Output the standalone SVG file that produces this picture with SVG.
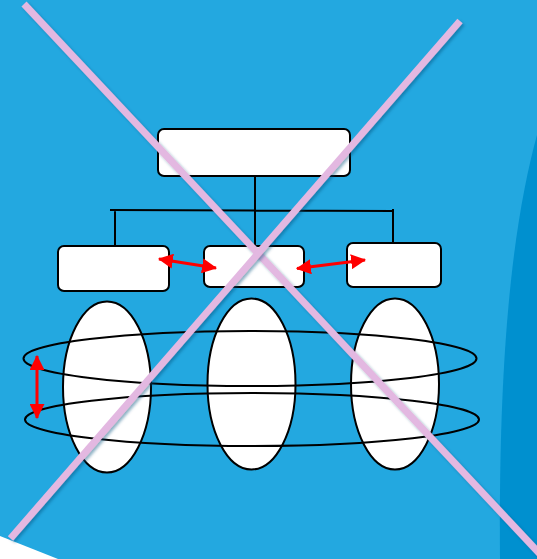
<svg xmlns="http://www.w3.org/2000/svg" width="537" height="559" viewBox="0 0 537 559">
<style>
.box{fill:#fff;stroke:#000;stroke-width:2}
.ell{fill:#fff;stroke:#000;stroke-width:2}
.ring{fill:none;stroke:#000;stroke-width:2}
.tree{fill:none;stroke:#000;stroke-width:2}
.arr{fill:none;stroke:#ff0000;stroke-width:3}
.cross{stroke:#e3b8e1;stroke-width:7;stroke-linecap:butt;filter:url(#sh)}
</style>
<defs>
<marker id="ah" viewBox="0 0 14 14" refX="13" refY="7" markerWidth="15" markerHeight="15" markerUnits="userSpaceOnUse" orient="auto-start-reverse">
<path d="M0,0 L14,7 L0,14 Z" fill="#ff0000"/>
</marker>
<filter id="sh" x="-10%" y="-10%" width="120%" height="120%">
<feDropShadow dx="2" dy="2" stdDeviation="1.5" flood-color="#0a4f7a" flood-opacity="0.45"/>
</filter>
</defs>
<rect x="0" y="0" width="537" height="559" fill="#23a8e0"/>
<path d="M537,135 C515,215 498,340 500,559 L537,559 Z" fill="#0090cf"/>
<path d="M0,536 L58,559 L0,559 Z" fill="#ffffff"/>

<g id="connectors">
<path class="tree" d="M255,177 V246 M110,210 L393,211 M115,210 V246 M393,209 V243"/>
</g>

<g id="node-top"><rect class="box" x="158" y="129" width="192" height="47" rx="6"/></g>
<g id="node-left"><rect class="box" x="58" y="246" width="111" height="45" rx="6"/></g>
<g id="node-center"><rect class="box" x="204" y="246" width="100" height="41" rx="6"/></g>
<g id="node-right"><rect class="box" x="347" y="243" width="94" height="44" rx="6"/></g>

<g id="node-ellipse-left"><ellipse class="ell" cx="107" cy="387" rx="44" ry="85.5"/></g>
<g id="node-ellipse-middle"><ellipse class="ell" cx="251.5" cy="384" rx="44" ry="85.5"/></g>
<g id="node-ellipse-right"><ellipse class="ell" cx="395" cy="384" rx="44" ry="85.5"/></g>

<g id="node-ring-upper"><ellipse class="ring" cx="250" cy="358.5" rx="226.5" ry="27.5"/></g>
<g id="node-ring-lower"><ellipse class="ring" cx="252" cy="419.5" rx="227" ry="26.5"/></g>

<g id="arrows">
<line class="arr" x1="159" y1="259" x2="216" y2="268" marker-start="url(#ah)" marker-end="url(#ah)"/>
<line class="arr" x1="297" y1="268.5" x2="365" y2="260" marker-start="url(#ah)" marker-end="url(#ah)"/>
<line class="arr" x1="37" y1="356" x2="37" y2="418" marker-start="url(#ah)" marker-end="url(#ah)"/>
</g>

<g id="cross">
<line class="cross" x1="24" y1="4" x2="540" y2="554"/>
<line class="cross" x1="460" y1="21" x2="10.5" y2="538.5"/>
</g>
</svg>
